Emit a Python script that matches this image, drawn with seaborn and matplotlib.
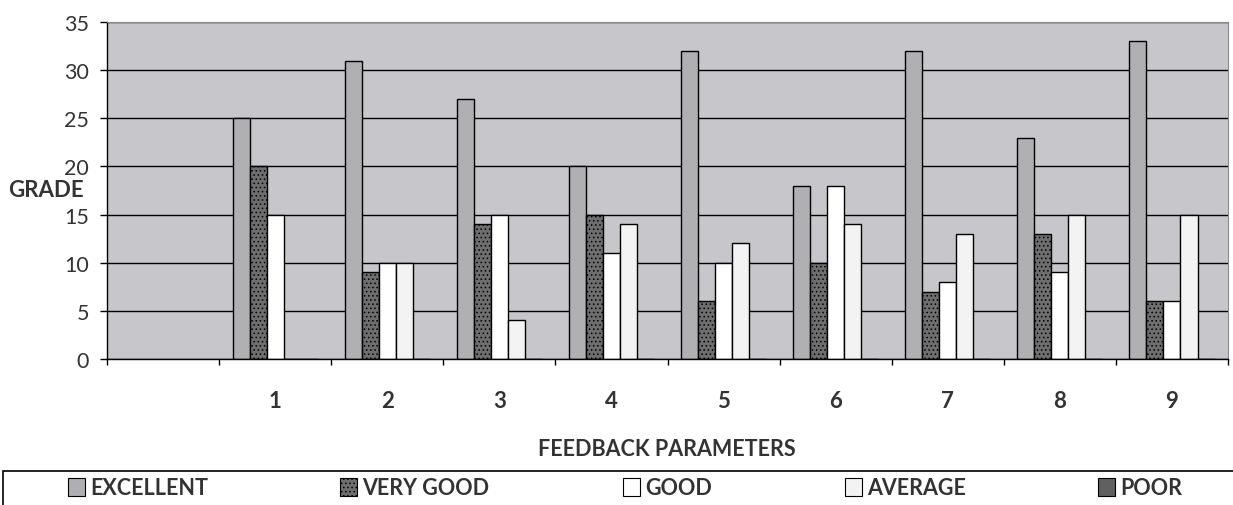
import numpy as np
import pandas as pd
import seaborn as sns
import matplotlib.pyplot as plt
from matplotlib.patches import Rectangle, Patch

sns.set_theme(style="white")
plt.rcParams['font.family'] = ['Lato', 'DejaVu Sans']
plt.rcParams['hatch.linewidth'] = 0.6

# Feedback parameters (the first slot on the axis is left empty)
parameters = [" ", "1", "2", "3", "4", "5", "6", "7", "8", "9"]
grades = ["EXCELLENT", "VERY GOOD", "GOOD", "AVERAGE", "POOR"]

excellent = [25, 31, 27, 20, 32, 18, 32, 23, 33]
very_good = [20, 9, 14, 15, 6, 10, 7, 13, 6]
good = [15, 10, 15, 11, 10, 18, 8, 9, 6]
average = [0, 10, 4, 14, 12, 14, 13, 15, 15]
poor = [0, 0, 0, 0, 0, 0, 0, 0, 0]

grade_colors = ["#afafb3", "#6e6e6e", "#ffffff", "#f3f3f3", "#606060"]

series = {"EXCELLENT": excellent, "VERY GOOD": very_good, "GOOD": good,
          "AVERAGE": average, "POOR": poor}
rows = []
for grade, values in series.items():
    for param, v in zip(parameters[1:], values):
        rows.append({"parameter": param, "grade": grade, "score": v})
df = pd.DataFrame(rows)

fig = plt.figure(figsize=(12.33, 5.06), dpi=100)
W, H = 1233, 506
ax = fig.add_axes([107 / W, 146 / H, 1121 / W, 337 / H])
ax.set_facecolor("#c6c6cb")

sns.barplot(data=df, x="parameter", y="score", hue="grade", order=parameters,
            hue_order=grades, palette=grade_colors, width=0.76,
            edgecolor="black", linewidth=1.0, errorbar=None, legend=False, ax=ax)

# dotted texture on the VERY GOOD bars
for bar in ax.containers[1]:
    bar.set_hatch("....")

ax.set_axisbelow(True)
ax.yaxis.grid(True, color="black", linewidth=1.0)
ax.xaxis.grid(False)

ax.set_ylim(0, 35)
ax.set_yticks(range(0, 36, 5))
ax.set_xlim(-0.5, len(parameters) - 0.5)

ax.tick_params(axis="y", direction="out", length=5, width=1, color="black",
               labelsize=15.5, labelcolor="#333333", pad=8, left=True)
ax.tick_params(axis="x", which="major", length=0, pad=22, labelsize=16,
               labelcolor="#333333")
ax.set_xticks(np.arange(-0.5, len(parameters), 1), minor=True)
ax.tick_params(axis="x", which="minor", direction="out", length=4.3, width=1,
               color="black", bottom=True)
for lbl in ax.get_xticklabels():
    lbl.set_fontweight("bold")

for side in ["left", "bottom"]:
    ax.spines[side].set_color("black")
    ax.spines[side].set_linewidth(1.0)
for side in ["top", "right"]:
    ax.spines[side].set_color("#8a8a8a")
    ax.spines[side].set_linewidth(0.8)

ax.set_ylabel("GRADE", rotation=0, fontsize=16, fontweight="bold",
              color="#333333", ha="left", va="center")
ax.yaxis.set_label_coords((8 - 107) / 1121, (360 - 191) / 337)
ax.set_xlabel("FEEDBACK PARAMETERS", fontsize=15.5, fontweight="bold",
              color="#333333", va="center")
ax.xaxis.set_label_coords((667 - 107) / 1121, (360 - 449) / 337)

# legend strip along the bottom
fig.add_artist(Rectangle((3 / W, -0.1), 1.0, 0.1 + (H - 472) / H,
                         transform=fig.transFigure, fill=False,
                         edgecolor="black", linewidth=1.2))
legend_x = [68, 340, 623, 845, 1098]
for i, (grade, color) in enumerate(zip(grades, grade_colors)):
    handle = Patch(facecolor=color, edgecolor="black", linewidth=0.8,
                   hatch="...." if grade == "VERY GOOD" else None)
    fig.legend(handles=[handle], labels=[grade], loc="center left",
               bbox_to_anchor=(legend_x[i] / W, 1 - 489 / H),
               frameon=False, borderpad=0, borderaxespad=0,
               handlelength=0.8, handleheight=0.85, handletextpad=0.25,
               prop={"size": 15.5, "weight": "bold"}, labelcolor="#333333")

fig.savefig("out.png", dpi=100)
